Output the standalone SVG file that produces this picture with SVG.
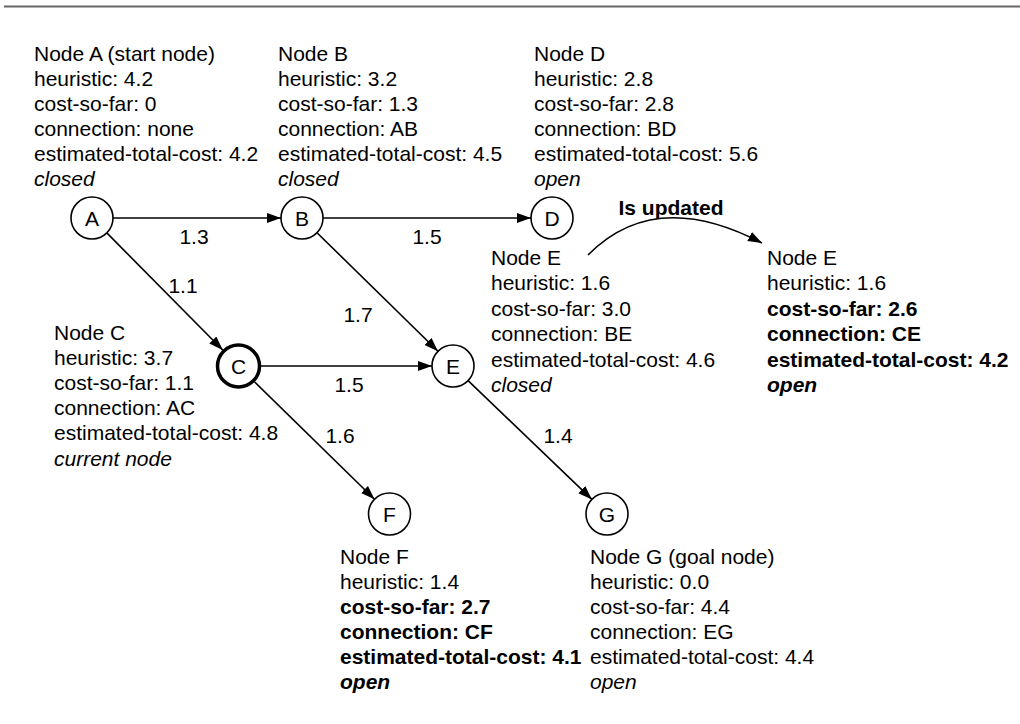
<svg xmlns="http://www.w3.org/2000/svg" width="1020" height="724" viewBox="0 0 1020 724">
<style>
text{font-family:"Liberation Sans",Arial,sans-serif;font-size:21px;fill:#000}
.b{font-weight:bold}
.i{font-style:italic}
.c{text-anchor:middle}
.node circle{fill:#fff;stroke:#000;stroke-width:1.6}
.cur circle{stroke-width:3.5}
.edge{stroke:#000;stroke-width:1.6;fill:none;marker-end:url(#ah)}
</style>
<defs>
<marker id="ah" markerUnits="userSpaceOnUse" markerWidth="15" markerHeight="11" refX="14" refY="5" orient="auto">
<path d="M0,0 L14,5 L0,10 z" fill="#000"/>
</marker>
</defs>
<rect width="1020" height="724" fill="#fff"/>
<line x1="4" y1="6.5" x2="1020" y2="6.5" stroke="#666" stroke-width="2"/>
<g id="connectors">
<line class="edge" x1="113" y1="218" x2="281" y2="218"/>
<line class="edge" x1="323" y1="218" x2="531" y2="218"/>
<line class="edge" x1="106.8" y1="232.9" x2="222.7" y2="350"/>
<line class="edge" x1="317" y1="232.7" x2="438" y2="351.3"/>
<line class="edge" x1="261" y1="366" x2="432" y2="366"/>
<line class="edge" x1="254.5" y1="381.8" x2="374.5" y2="499.3"/>
<line class="edge" x1="468.1" y1="380.6" x2="591.9" y2="499.4"/>
<path class="edge" d="M588,255 Q655,187 762,243"/>
<text class="c" x="194" y="244">1.3</text>
<text class="c" x="427" y="244">1.5</text>
<text class="c" x="183" y="293">1.1</text>
<text class="c" x="358" y="322">1.7</text>
<text class="c" x="349" y="392">1.5</text>
<text class="c" x="340" y="443">1.6</text>
<text class="c" x="558" y="443">1.4</text>
<text class="c b" x="671" y="215">Is updated</text>
</g>
<g id="nodeA" class="node">
<circle cx="92" cy="218" r="21"/>
<text class="c" x="92" y="225.5">A</text>
<text x="34" y="61">Node A (start node)</text>
<text x="34" y="86">heuristic: 4.2</text>
<text x="34" y="111">cost-so-far: 0</text>
<text x="34" y="136">connection: none</text>
<text x="34" y="161">estimated-total-cost: 4.2</text>
<text class="i" x="34" y="186">closed</text>
</g>
<g id="nodeB" class="node">
<circle cx="302" cy="218" r="21"/>
<text class="c" x="302" y="225.5">B</text>
<text x="278" y="61">Node B</text>
<text x="278" y="86">heuristic: 3.2</text>
<text x="278" y="111">cost-so-far: 1.3</text>
<text x="278" y="136">connection: AB</text>
<text x="278" y="161">estimated-total-cost: 4.5</text>
<text class="i" x="278" y="186">closed</text>
</g>
<g id="nodeD" class="node">
<circle cx="552" cy="218" r="21"/>
<text class="c" x="552" y="225.5">D</text>
<text x="534" y="61">Node D</text>
<text x="534" y="86">heuristic: 2.8</text>
<text x="534" y="111">cost-so-far: 2.8</text>
<text x="534" y="136">connection: BD</text>
<text x="534" y="161">estimated-total-cost: 5.6</text>
<text class="i" x="534" y="186">open</text>
</g>
<g id="nodeC" class="node cur">
<circle cx="238.5" cy="366" r="21"/>
<text class="c" x="238.5" y="373.5">C</text>
<text x="54" y="339.5">Node C</text>
<text x="54" y="364.7">heuristic: 3.7</text>
<text x="54" y="389.9">cost-so-far: 1.1</text>
<text x="54" y="415.1">connection: AC</text>
<text x="54" y="440.3">estimated-total-cost: 4.8</text>
<text class="i" x="54" y="465.5">current node</text>
</g>
<g id="nodeE" class="node">
<circle cx="453" cy="366" r="21"/>
<text class="c" x="453" y="373.5">E</text>
<text x="491" y="264.5">Node E</text>
<text x="491" y="290">heuristic: 1.6</text>
<text x="491" y="315.5">cost-so-far: 3.0</text>
<text x="491" y="341">connection: BE</text>
<text x="491" y="366.5">estimated-total-cost: 4.6</text>
<text class="i" x="491" y="392">closed</text>
</g>
<g id="nodeE2">
<text x="767" y="264.5">Node E</text>
<text x="767" y="290">heuristic: 1.6</text>
<text class="b" x="767" y="315.5">cost-so-far: 2.6</text>
<text class="b" x="767" y="341">connection: CE</text>
<text class="b" x="767" y="366.5">estimated-total-cost: 4.2</text>
<text class="b i" x="767" y="392">open</text>
</g>
<g id="nodeF" class="node">
<circle cx="389.5" cy="514" r="21"/>
<text class="c" x="389.5" y="521.5">F</text>
<text x="340" y="564">Node F</text>
<text x="340" y="589">heuristic: 1.4</text>
<text class="b" x="340" y="614">cost-so-far: 2.7</text>
<text class="b" x="340" y="639">connection: CF</text>
<text class="b" x="340" y="664">estimated-total-cost: 4.1</text>
<text class="b i" x="340" y="689">open</text>
</g>
<g id="nodeG" class="node">
<circle cx="607" cy="514" r="21"/>
<text class="c" x="607" y="521.5">G</text>
<text x="590" y="564">Node G (goal node)</text>
<text x="590" y="589">heuristic: 0.0</text>
<text x="590" y="614">cost-so-far: 4.4</text>
<text x="590" y="639">connection: EG</text>
<text x="590" y="664">estimated-total-cost: 4.4</text>
<text class="i" x="590" y="689">open</text>
</g>
</svg>
